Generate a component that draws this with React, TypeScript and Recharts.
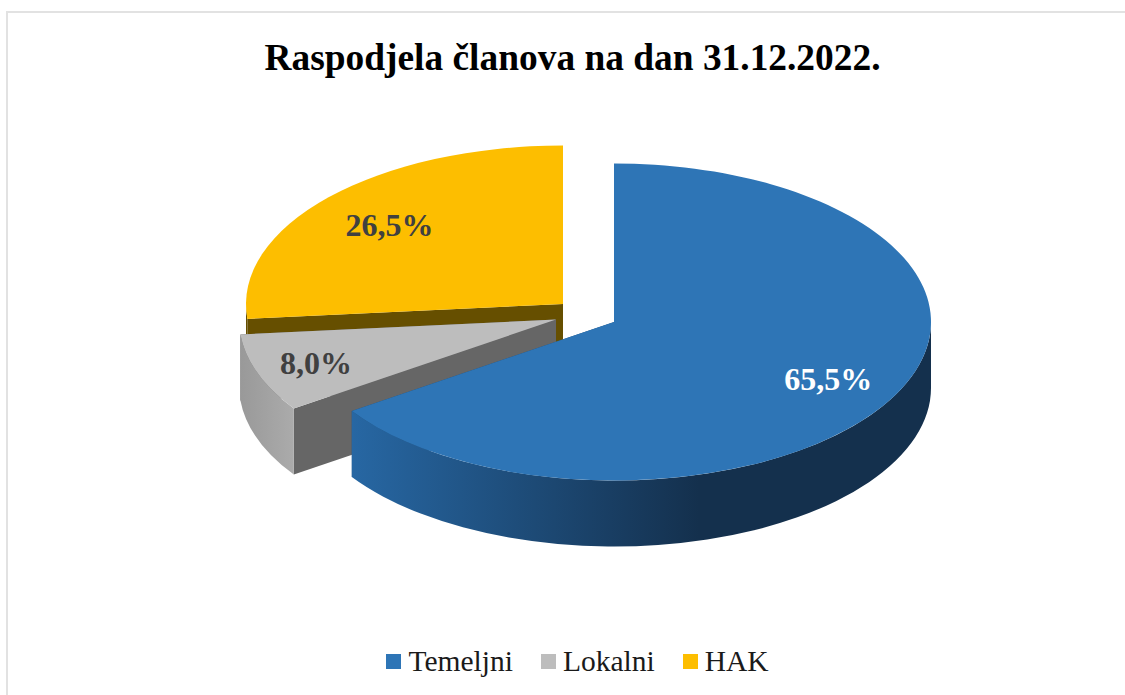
import { Legend, Pie, PieChart } from "recharts";

const CATEGORIES = ["Temeljni", "Lokalni", "HAK"];
const VALUES = [65.5, 8.0, 26.5];
const COLORS = ["#2E75B6", "#BDBDBD", "#FDBE00"];

const TITLE = "Raspodjela članova na dan 31.12.2022.";
const SERIF = "'Liberation Serif', 'Times New Roman', serif";

const RX = 317;
const TILT = 0.5;
const DEPTH = 66;

// how far each slice is pulled out of the pie, in px
const OFFSETS: Record<string, [number, number]> = {
  Temeljni: [0, 0],
  Lokalni: [-58, -2.5],
  HAK: [-51, -18],
};
const CUT_WALL: Record<string, string> = {
  Temeljni: "#1F4E79",
  Lokalni: "#666666",
  HAK: "#664F00",
};
const OUTER_WALL: Record<string, [string, string, number]> = {
  Temeljni: ["#2767A3", "#14304D", 0.6],
  Lokalni: ["#999999", "#ABABAB", 1],
  HAK: ["#664F00", "#664F00", 1],
};
const LABEL_COLOR: Record<string, string> = {
  Temeljni: "#FFFFFF",
  Lokalni: "#404040",
  HAK: "#404040",
};
const LABEL_RADIUS: Record<string, number> = {
  Temeljni: 0.765,
  Lokalni: 0.805,
  HAK: 0.74,
};

// reversed so the front slice paints last; the pie runs counter-clockwise from 12 o'clock
const rows = CATEGORIES.map((name, i) => ({
  name,
  value: VALUES[i],
  fill: COLORS[i],
})).reverse();

const point = (cx: number, cy: number, deg: number) => {
  const rad = (deg * Math.PI) / 180;
  return [cx + RX * Math.cos(rad), cy - RX * TILT * Math.sin(rad)];
};

function Slice3D(props: any) {
  const { startAngle, endAngle, fill, name } = props;
  const [dx, dy] = OFFSETS[name];
  const cx = props.cx + dx;
  const cy = props.cy + dy;
  const ry = RX * TILT;
  const [x0, y0] = point(cx, cy, startAngle);
  const [x1, y1] = point(cx, cy, endAngle);
  const large = endAngle - startAngle > 180 ? 1 : 0;

  // only the lower half of the rim faces the viewer
  const rimFrom = Math.max(startAngle, 180);
  const rimTo = Math.min(endAngle, 360);
  const [rx0, ry0] = point(cx, cy, rimFrom);
  const [rx1, ry1] = point(cx, cy, rimTo);
  const rim = `M${rx0},${ry0} A${RX},${ry} 0 0 0 ${rx1},${ry1} L${rx1},${ry1 + DEPTH} A${RX},${ry} 0 0 1 ${rx0},${ry0 + DEPTH} Z`;
  const wall = (x: number, y: number) =>
    `M${cx},${cy} L${x},${y} L${x},${y + DEPTH} L${cx},${cy + DEPTH} Z`;
  const [c0, c1, stop] = OUTER_WALL[name];
  const gradId = `rim-${name}`;

  return (
    <g>
      <defs>
        <linearGradient id={gradId} x1="0" y1="0" x2="1" y2="0">
          <stop offset={0} stopColor={c0} />
          <stop offset={stop} stopColor={c1} />
        </linearGradient>
      </defs>
      <path d={wall(x0, y0)} fill={CUT_WALL[name]} />
      <path d={wall(x1, y1)} fill={CUT_WALL[name]} />
      {rimTo > rimFrom && <path d={rim} fill={`url(#${gradId})`} />}
      <path
        d={`M${cx},${cy} L${x0},${y0} A${RX},${ry} 0 ${large} 0 ${x1},${y1} Z`}
        fill={fill}
      />
    </g>
  );
}

function SliceLabel(props: any) {
  const { midAngle, name, value } = props;
  const [dx, dy] = OFFSETS[name];
  const rad = (midAngle * Math.PI) / 180;
  const f = LABEL_RADIUS[name];
  return (
    <text
      x={props.cx + dx + f * RX * Math.cos(rad)}
      y={props.cy + dy - f * RX * TILT * Math.sin(rad)}
      textAnchor="middle"
      dominantBaseline="central"
      fontFamily={SERIF}
      fontWeight="bold"
      fontSize={32}
      fill={LABEL_COLOR[name]}
    >
      {value.toFixed(1).replace(".", ",")}%
    </text>
  );
}

function LegendRow({ payload }: any) {
  const items = [...(payload ?? [])].sort(
    (a: any, b: any) => CATEGORIES.indexOf(a.value) - CATEGORIES.indexOf(b.value),
  );
  return (
    <div style={{ display: "flex", justifyContent: "center", gap: 28, paddingLeft: 30, fontFamily: SERIF, fontSize: 29.5, color: "#1a1a1a" }}>
      {items.map((item: any) => (
        <div key={item.value} style={{ display: "flex", alignItems: "center", gap: 7 }}>
          <span style={{ width: 15, height: 15, background: item.color, display: "inline-block" }} />
          <span>{item.value}</span>
        </div>
      ))}
    </div>
  );
}

export default function App() {
  return (
    <div style={{ position: "absolute", left: 0, top: 0, width: 1125, height: 695, overflow: "hidden", background: "#fff" }}>
      <div style={{ position: "absolute", left: 6, top: 11, width: 1200, height: 800, border: "2px solid #E2E2E2" }} />
      <PieChart width={1125} height={695} margin={{ top: 0, right: 0, bottom: 0, left: 0 }}>
        <text
          x={572.5}
          y={57}
          textAnchor="middle"
          dominantBaseline="central"
          fontFamily={SERIF}
          fontWeight="bold"
          fontSize={37.4}
          fill="#000"
        >
          {TITLE}
        </text>
        <Pie
          data={rows}
          dataKey="value"
          nameKey="name"
          cx={614}
          cy={322}
          outerRadius={RX}
          startAngle={90}
          endAngle={450}
          stroke="none"
          shape={Slice3D}
          label={SliceLabel}
          labelLine={false}
          isAnimationActive={false}
        />
        <Legend
          content={LegendRow}
          wrapperStyle={{ left: 0, top: 645, width: 1125 }}
        />
      </PieChart>
    </div>
  );
}
